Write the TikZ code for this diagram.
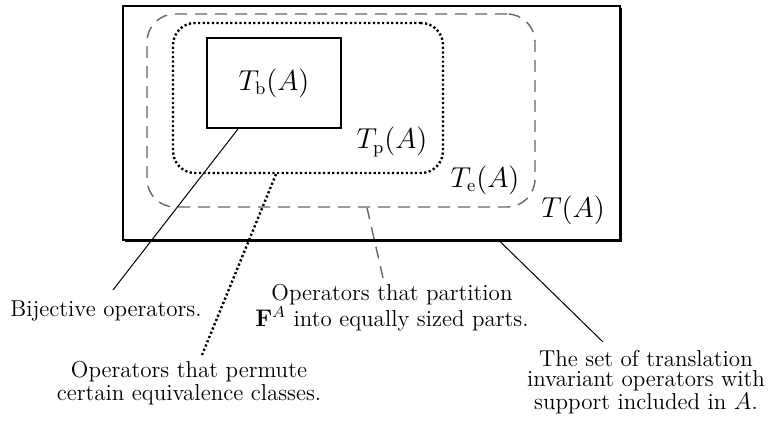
\documentclass[tikz,border=0pt]{standalone}
\usetikzlibrary{shadows}
\begin{document}
\begin{tikzpicture}[x=0.5pt,y=-0.5pt,
    sets/.style={font=\fontsize{13.5}{16}\selectfont},
    note/.style={anchor=north,inner sep=0pt,align=center,font=\fontsize{11.5}{10}\selectfont},
    dashgray/.style={draw=black!60,line width=0.7pt,dash pattern=on 6pt off 4pt},
    dotline/.style={line width=1.2pt,dash pattern=on 1.1pt off 1.2pt}]
  \useasboundingbox (0,0) rectangle (770,426);
  % nested sets
  \node[draw,fill=white,line width=1pt,minimum width=248.5pt,minimum height=117pt,
        drop shadow={shadow xshift=1.2pt,shadow yshift=-1.2pt,fill=black,opacity=1}] (ta) at (371.5,123) {};
  \node[dashgray,rounded corners=14pt,minimum width=194pt,minimum height=96.5pt] (te) at (341,110.5) {};
  \node[draw,dotline,rounded corners=11pt,minimum width=135pt,minimum height=75pt] (tp) at (308,98) {};
  \node[draw,line width=1pt,minimum width=67pt,minimum height=45pt,sets] (tb) at (274,83) {$T_{\mathrm{b}}(A)$};
  \node[sets] (tpl) at (392,142) {$T_{\mathrm{p}}(A)$};
  \node[sets] (tel) at (485,180) {$T_{\mathrm{e}}(A)$};
  \node[sets] (tal) at (573,210) {$T(A)$};
  % explanations
  \node[note] (bij) at (106,300) {Bijective operators.};
  \node[note] (perm) at (189,361) {Operators that permute\\certain equivalence classes.};
  \node[note] (part) at (392,284) {Operators that partition\\$\mathbf{F}^A$ into equally sized parts.};
  \node[note] (trans) at (646,350) {The set of translation\\invariant operators with\\support included in $A$.};
  \draw[line width=0.5pt] ([xshift=-18pt]tb.south) -- ([xshift=3.5pt,yshift=5pt]bij.north);
  \draw[dotline] ([xshift=-16pt]tp.south) -- ([xshift=6.5pt,yshift=3pt]perm.north);
  \draw[dashgray] ([xshift=13pt]te.south) -- ([xshift=-4.5pt,yshift=3pt]part.north);
  \draw[line width=0.5pt] ([xshift=64pt]ta.south) -- ([xshift=-21.5pt,yshift=4pt]trans.north);
\end{tikzpicture}
\end{document}
